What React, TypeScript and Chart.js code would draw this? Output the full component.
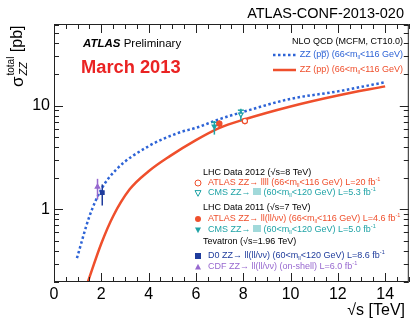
import React, { useEffect, useRef } from 'react';
import { Chart, registerables } from 'chart.js';
Chart.register(...registerables);

const FONT = '"Liberation Sans", Arial, Helvetica, sans-serif';

// NLO QCD theory curves
const ppbarS = [0.97, 1.5, 2.0, 2.63, 4.0, 5.3, 6.0, 7.0, 8.0, 10.0, 12.0, 14.0];
const ppbarXsec = [0.34, 0.86, 1.56, 2.42, 4.06, 5.5, 6.1, 7.4, 8.7, 11.6, 13.7, 16.8];
const ppS = [1.43, 2.0, 2.5, 3.2, 4.0, 4.9, 6.0, 7.0, 8.0, 10.0, 12.0, 14.0];
const ppXsec = [0.2, 0.47, 0.86, 1.56, 2.33, 3.26, 4.65, 6.1, 7.3, 9.8, 12.5, 15.3];

// Measurements
const measNames = ['ATLAS 2012', 'CMS 2012', 'ATLAS 2011', 'CMS 2011', 'D0', 'CDF'];
const measS = [8.07, 7.9, 6.99, 6.78, 2.04, 1.84];
const measXsec = [7.1, 8.2, 6.7, 6.3, 1.45, 1.65];
const measLo = [6.6, 7.1, 6.0, 5.25, 1.09, 1.25];
const measHi = [7.6, 9.3, 7.2, 7.1, 1.74, 1.97];

// Axis ticks
const xTickValues = [0, 2, 4, 6, 8, 10, 12, 14];
const yTickValues = [1, 10];

const RED = '#ef4f2c';
const BLUE = '#2d63d6';
const CYAN = '#1fa3a6';
const NAVY = '#1f3c9c';
const PURPLE = '#9768cf';

const measColors = [RED, CYAN, RED, CYAN, NAVY, PURPLE];
const measStyles = ['circle', 'triangle', 'circle', 'triangle', 'rect', 'triangle'];
const measRot = [0, 180, 0, 180, 0, 0];
const measFilled = [false, false, true, true, true, true];

type Seg = { t: string; sub?: boolean; sup?: boolean; bold?: boolean; italic?: boolean; over?: boolean };

function segFont(s: Seg, size: number) {
  const sz = s.sub || s.sup ? size * 0.62 : size;
  return `${s.italic ? 'italic ' : ''}${s.bold ? 'bold ' : ''}${sz}px ${FONT}`;
}

function drawRich(ctx: CanvasRenderingContext2D, x: number, y: number, segs: Seg[], size: number, color: string, align: 'left' | 'right' = 'left') {
  ctx.save();
  ctx.textBaseline = 'middle';
  ctx.textAlign = 'left';
  let total = 0;
  for (const s of segs) {
    ctx.font = segFont(s, size);
    total += ctx.measureText(s.t).width;
  }
  let cx = align === 'right' ? x - total : x;
  ctx.fillStyle = color;
  ctx.strokeStyle = color;
  for (const s of segs) {
    ctx.font = segFont(s, size);
    const dy = s.sub ? size * 0.3 : s.sup ? -size * 0.38 : 0;
    ctx.fillText(s.t, cx, y + dy);
    const w = ctx.measureText(s.t).width;
    if (s.over) {
      ctx.lineWidth = 0.8;
      ctx.beginPath();
      ctx.moveTo(cx, y - size * 0.42);
      ctx.lineTo(cx + w, y - size * 0.42);
      ctx.stroke();
    }
    cx += w;
  }
  ctx.restore();
}

function mll(lo: string, hi: string): Seg[] {
  return [{ t: `(${lo}<m` }, { t: 'll', sub: true }, { t: `<${hi} GeV)` }];
}
function lumi(l: string): Seg[] {
  return [{ t: ` L=${l} fb` }, { t: '-1', sup: true }];
}

function drawMarker(ctx: CanvasRenderingContext2D, x: number, y: number, i: number) {
  const c = measColors[i];
  const r = 3;
  ctx.save();
  ctx.fillStyle = c;
  ctx.strokeStyle = c;
  ctx.lineWidth = 1;
  ctx.beginPath();
  const st = measStyles[i];
  if (st === 'circle') {
    ctx.arc(x, y, r, 0, Math.PI * 2);
  } else if (st === 'rect') {
    ctx.rect(x - r, y - r, 2 * r, 2 * r);
  } else {
    const d = measRot[i] === 180 ? -1 : 1;
    ctx.moveTo(x, y - d * r * 1.1);
    ctx.lineTo(x - r, y + d * r * 0.8);
    ctx.lineTo(x + r, y + d * r * 0.8);
    ctx.closePath();
  }
  if (measFilled[i]) ctx.fill();
  else {
    ctx.fillStyle = '#fff';
    ctx.fill();
    ctx.stroke();
  }
  ctx.restore();
}

const errorBarPlugin = {
  id: 'errorBars',
  beforeDatasetDraw(chart: any, args: any) {
    if (args.index !== measNames.length - 1) return;
    const { ctx, scales } = chart;
    const xs = scales.x;
    const ys = scales.y;
    ctx.save();
    measS.forEach((s, i) => {
      const px = xs.getPixelForValue(s);
      const y1 = ys.getPixelForValue(measLo[i]);
      const y2 = ys.getPixelForValue(measHi[i]);
      ctx.strokeStyle = measColors[i];
      ctx.lineWidth = 1.5;
      ctx.beginPath();
      ctx.moveTo(px, y1);
      ctx.lineTo(px, y2);
      ctx.stroke();
      if (measStyles[i] === 'triangle' && measRot[i] === 180) {
        const yc = ys.getPixelForValue(measXsec[i] + (measHi[i] - measXsec[i]) * 0.75);
        ctx.beginPath();
        ctx.moveTo(px - 3, yc);
        ctx.lineTo(px + 3, yc);
        ctx.stroke();
      }
    });
    ctx.restore();
  },
};

const decorPlugin = {
  id: 'decor',
  afterDraw(chart: any) {
    const { ctx, chartArea: a, scales } = chart;
    const xs = scales.x;
    const ys = scales.y;
    ctx.save();
    // frame
    ctx.strokeStyle = '#222';
    ctx.lineWidth = 1;
    ctx.strokeRect(a.left + 0.5, a.top + 0.5, a.right - a.left - 1, a.bottom - a.top - 1);
    // x ticks
    ctx.beginPath();
    for (let v = 0; v <= 15.001; v += 0.5) {
      const px = Math.round(xs.getPixelForValue(v)) + 0.5;
      const major = Math.abs(v / 2 - Math.round(v / 2)) < 1e-6;
      const L = major ? 9 : 5;
      ctx.moveTo(px, a.bottom);
      ctx.lineTo(px, a.bottom - L);
      ctx.moveTo(px, a.top);
      ctx.lineTo(px, a.top + L);
    }
    // y ticks
    const yv: number[] = [];
    for (const dec of [0.1, 1, 10]) for (let k = 1; k <= 9; k++) yv.push(k * dec);
    for (const v of yv) {
      if (v < 0.2 - 1e-9 || v > ys.max) continue;
      const py = Math.round(ys.getPixelForValue(v)) + 0.5;
      const major = v === 1 || v === 10;
      const L = major ? 9 : 5;
      ctx.moveTo(a.left, py);
      ctx.lineTo(a.left + L, py);
      ctx.moveTo(a.right, py);
      ctx.lineTo(a.right - L, py);
    }
    ctx.stroke();

    // header
    ctx.fillStyle = '#000';
    ctx.textBaseline = 'middle';
    ctx.textAlign = 'right';
    ctx.font = `14.5px ${FONT}`;
    ctx.fillText('ATLAS-CONF-2013-020', 404, 14);

    // ATLAS Preliminary
    drawRich(ctx, 83, 44, [{ t: 'ATLAS', bold: true, italic: true }, { t: ' Preliminary' }], 11.5, '#000');
    drawRich(ctx, 81, 68, [{ t: 'March 2013', bold: true }], 18.3, '#ea2323');

    // theory legend
    drawRich(ctx, 403, 42, [{ t: 'NLO QCD (MCFM, CT10.0)' }], 9, '#000', 'right');
    drawRich(ctx, 403, 55, [{ t: 'ZZ (p' }, { t: 'p', over: true }, { t: ') ' }, ...mll('66', '116')], 9, BLUE, 'right');
    drawRich(ctx, 403, 70, [{ t: 'ZZ (pp) ' }, ...mll('66', '116')], 9, RED, 'right');
    ctx.save();
    ctx.lineWidth = 2.5;
    ctx.strokeStyle = BLUE;
    ctx.setLineDash([2.5, 2.5]);
    ctx.beginPath();
    ctx.moveTo(273, 55);
    ctx.lineTo(296, 55);
    ctx.stroke();
    ctx.setLineDash([]);
    ctx.strokeStyle = RED;
    ctx.beginPath();
    ctx.moveTo(273, 70);
    ctx.lineTo(296, 70);
    ctx.stroke();
    ctx.restore();

    // data legend
    const fs = 9;
    const tx = 208;
    const mx = 198;
    drawRich(ctx, 203, 173, [{ t: 'LHC Data 2012 (\u221As=8 TeV)' }], fs, '#000');
    drawMarker(ctx, mx, 183, 0);
    drawRich(ctx, tx, 183, [{ t: 'ATLAS ZZ\u2192 llll ' }, ...mll('66', '116'), ...lumi('20')], fs, RED);
    drawMarker(ctx, mx, 193, 1);
    drawRich(ctx, tx, 193, [{ t: 'CMS ZZ\u2192 llll ' }, ...mll('60', '120'), ...lumi('5.3')], fs, CYAN);
    drawRich(ctx, 203, 208, [{ t: 'LHC Data 2011 (\u221As=7 TeV)' }], fs, '#000');
    drawMarker(ctx, mx, 219, 2);
    drawRich(ctx, tx, 219, [{ t: 'ATLAS ZZ\u2192 ll(ll/\u03BD\u03BD) ' }, ...mll('66', '116'), ...lumi('4.6')], fs, RED);
    drawMarker(ctx, mx, 230, 3);
    drawRich(ctx, tx, 230, [{ t: 'CMS ZZ\u2192 llll ' }, ...mll('60', '120'), ...lumi('5.0')], fs, CYAN);
    drawRich(ctx, 203, 242, [{ t: 'Tevatron (\u221As=1.96 TeV)' }], fs, '#000');
    drawMarker(ctx, mx, 256, 4);
    drawRich(ctx, tx, 256, [{ t: 'D0 ZZ\u2192 ll(ll/\u03BD\u03BD) ' }, ...mll('60', '120'), ...lumi('8.6')], fs, NAVY);
    drawMarker(ctx, mx, 267, 5);
    drawRich(ctx, tx, 267, [{ t: 'CDF ZZ\u2192 ll(ll/\u03BD\u03BD) (on-shell)' }, ...lumi('6.0')], fs, PURPLE);

    // x title
    drawRich(ctx, 405, 311, [{ t: '\u221As [TeV]' }], 16, '#000', 'right');

    // y title (rotated)
    ctx.save();
    ctx.translate(18, 87);
    ctx.rotate(-Math.PI / 2);
    ctx.textBaseline = 'middle';
    ctx.textAlign = 'left';
    ctx.fillStyle = '#000';
    ctx.font = `17px ${FONT}`;
    ctx.fillText('\u03C3', 0, 0);
    const sw = ctx.measureText('\u03C3').width + 1;
    ctx.font = `10px ${FONT}`;
    ctx.fillText('total', sw, -7);
    const tw = ctx.measureText('total').width;
    ctx.font = `italic 11px ${FONT}`;
    ctx.fillText('ZZ', sw, 6);
    const zw = ctx.measureText('ZZ').width;
    ctx.font = `16px ${FONT}`;
    ctx.fillText(' [pb]', sw + Math.max(tw, zw), 0);
    ctx.restore();

    ctx.restore();
  },
};

export default function App() {
  const ref = useRef<HTMLCanvasElement>(null);
  useEffect(() => {
    if (!ref.current) return;
    const measSets = measNames.map((name, i) => ({
      label: name,
      data: [{ x: measS[i], y: measXsec[i] }],
      pointStyle: measStyles[i] as any,
      rotation: measRot[i],
      pointRadius: 2.6,
      pointBorderWidth: 1.2,
      pointBackgroundColor: measFilled[i] ? measColors[i] : '#ffffff',
      pointBorderColor: measColors[i],
      showLine: false,
    }));
    const chart = new Chart(ref.current, {
      type: 'scatter',
      data: {
        datasets: [
          ...measSets,
          {
            label: 'ZZ (ppbar)',
            data: ppbarS.map((s, i) => ({ x: s, y: ppbarXsec[i] })),
            showLine: true,
            borderColor: BLUE,
            borderWidth: 2.5,
            borderDash: [2.5, 2.5],
            pointRadius: 0,
            cubicInterpolationMode: 'monotone',
            fill: false,
          },
          {
            label: 'ZZ (pp)',
            data: ppS.map((s, i) => ({ x: s, y: ppXsec[i] })),
            showLine: true,
            borderColor: RED,
            borderWidth: 2.5,
            pointRadius: 0,
            cubicInterpolationMode: 'monotone',
            fill: false,
          },
        ] as any,
      },
      options: {
        animation: false,
        responsive: false,
        devicePixelRatio: 1,
        layout: { padding: { top: 24, right: 5, left: 0, bottom: 0 } },
        plugins: { legend: { display: false }, tooltip: { enabled: false } },
        scales: {
          x: {
            type: 'linear',
            min: 0,
            max: 15,
            grid: { display: false, drawTicks: false },
            border: { display: false },
            ticks: { font: { size: 16, family: FONT }, color: '#000', padding: 3, maxRotation: 0 },
            afterBuildTicks: (s: any) => {
              s.ticks = xTickValues.map((v) => ({ value: v }));
            },
            afterFit: (s: any) => {
              s.height = 38;
            },
          },
          y: {
            type: 'logarithmic',
            min: 0.2,
            max: 61,
            grid: { display: false, drawTicks: false },
            border: { display: false },
            ticks: {
              font: { size: 16, family: FONT },
              color: '#000',
              padding: 4,
              callback: (v: any) => String(v),
            },
            afterBuildTicks: (s: any) => {
              s.ticks = yTickValues.map((v) => ({ value: v }));
            },
            afterFit: (s: any) => {
              s.width = 54;
            },
          },
        },
      },
      plugins: [errorBarPlugin, decorPlugin],
    });
    return () => chart.destroy();
  }, []);
  return (
    <div style={{ position: 'fixed', left: 0, top: 0, width: 414, height: 320, background: '#fff' }}>
      <canvas ref={ref} width={414} height={320} style={{ display: 'block' }} />
    </div>
  );
}
